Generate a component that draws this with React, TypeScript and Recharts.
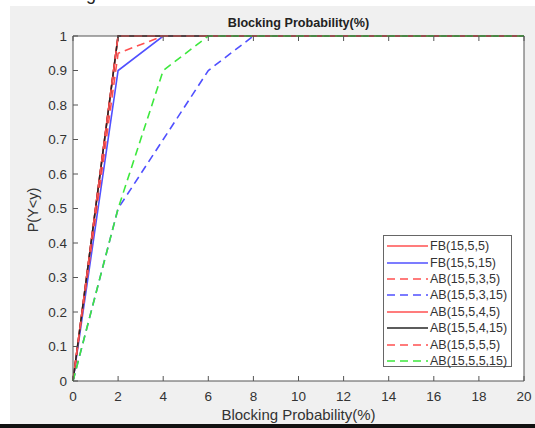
import React from 'react'
import { LineChart, Line, XAxis, YAxis, CartesianGrid } from 'recharts'

const FONT = '"Liberation Sans", Arial, sans-serif'
const RED = '#ff5050'
const BLUE = '#5050ff'
const GREEN = '#3de83d'
const BLACK = '#262626'
const DASH = '8 5'

// blocking probability (%) sampled every 2
const xValues = [0, 2, 4, 6, 8, 10, 12, 14, 16, 18, 20]
const xTicks = [0, 2, 4, 6, 8, 10, 12, 14, 16, 18, 20]
const yTicks = [0, 0.1, 0.2, 0.3, 0.4, 0.5, 0.6, 0.7, 0.8, 0.9, 1]

const fb_15_5_5 = [0, 1, 1, 1, 1, 1, 1, 1, 1, 1, 1]
const fb_15_5_15 = [0, 0.9, 1, 1, 1, 1, 1, 1, 1, 1, 1]
const ab_15_5_3_5 = [0, 0.95, 1, 1, 1, 1, 1, 1, 1, 1, 1]
const ab_15_5_3_15 = [0, 0.5, 0.7, 0.9, 1, 1, 1, 1, 1, 1, 1]
const ab_15_5_4_5 = [0, 1, 1, 1, 1, 1, 1, 1, 1, 1, 1]
const ab_15_5_4_15 = [0, 1, 1, 1, 1, 1, 1, 1, 1, 1, 1]
const ab_15_5_5_5 = [0, 1, 1, 1, 1, 1, 1, 1, 1, 1, 1]
const ab_15_5_5_15 = [0, 0.5, 0.9, 1, 1, 1, 1, 1, 1, 1, 1]

const series = [
  { key: 'fb5', name: 'FB(15,5,5)', values: fb_15_5_5, color: RED, dash: undefined },
  { key: 'fb15', name: 'FB(15,5,15)', values: fb_15_5_15, color: BLUE, dash: undefined },
  { key: 'ab35', name: 'AB(15,5,3,5)', values: ab_15_5_3_5, color: RED, dash: DASH },
  { key: 'ab315', name: 'AB(15,5,3,15)', values: ab_15_5_3_15, color: BLUE, dash: DASH },
  { key: 'ab45', name: 'AB(15,5,4,5)', values: ab_15_5_4_5, color: RED, dash: undefined },
  { key: 'ab415', name: 'AB(15,5,4,15)', values: ab_15_5_4_15, color: BLACK, dash: undefined },
  { key: 'ab55', name: 'AB(15,5,5,5)', values: ab_15_5_5_5, color: RED, dash: DASH },
  { key: 'ab515', name: 'AB(15,5,5,15)', values: ab_15_5_5_15, color: GREEN, dash: DASH },
]

const data = xValues.map((x, i) => {
  const row: Record<string, number> = { x }
  series.forEach(s => { row[s.key] = s.values[i] })
  return row
})

const tickStyle = { fontSize: 13.5, fill: '#333', fontFamily: FONT }
const EmptyTick = () => <g />

function Legend() {
  return (
    <div style={{ position: 'absolute', left: 383, top: 235, width: 129, height: 132, border: '1px solid #666', background: '#fff', boxSizing: 'border-box', paddingTop: 2 }}>
      {series.map(s => (
        <div key={s.key} style={{ display: 'flex', alignItems: 'center', height: 16.4, fontFamily: FONT, fontSize: 12.5, color: '#333' }}>
          <svg width={46} height={10} style={{ flex: 'none' }}>
            <line x1={3} x2={44} y1={5} y2={5} stroke={s.color} strokeWidth={1.6} strokeDasharray={s.dash} />
          </svg>
          <span style={{ whiteSpace: 'nowrap' }}>{s.name}</span>
        </div>
      ))}
    </div>
  )
}

export default function App() {
  return (
    <div style={{ position: 'absolute', left: 0, top: 0, width: 535, height: 428, background: '#fff', overflow: 'hidden' }}>
      <div style={{ position: 'absolute', left: 86, top: -15, fontFamily: FONT, fontSize: 18, lineHeight: '18px', color: '#222' }}>g</div>
      <div style={{ position: 'absolute', left: 10, top: 6, width: 525, height: 418, background: '#f0f0f0' }} />
      <div style={{ position: 'absolute', left: 0, top: 424, width: 535, height: 4, background: '#111' }} />
      <div style={{ position: 'absolute', left: 73, width: 451, top: 16, textAlign: 'center', fontFamily: FONT, fontWeight: 'bold', fontSize: 12.6, lineHeight: '15px', color: '#222' }}>
        Blocking Probability(%)
      </div>
      <div style={{ position: 'absolute', left: 73, width: 451, top: 406, textAlign: 'center', fontFamily: FONT, fontSize: 15, lineHeight: '17px', color: '#333' }}>
        Blocking Probability(%)
      </div>
      <div style={{ position: 'absolute', left: 33, top: 210, width: 0, height: 0 }}>
        <div style={{ position: 'absolute', left: -40, top: -9, width: 80, textAlign: 'center', transform: 'rotate(-90deg)', fontFamily: FONT, fontSize: 14.5, lineHeight: '18px', color: '#333' }}>
          P(Y&lt;y)
        </div>
      </div>
      <div style={{ position: 'absolute', left: 0, top: 0 }}>
        <LineChart width={535} height={428} data={data} margin={{ top: 35, right: 10, bottom: 17, left: 13 }}>
          <CartesianGrid xAxisId="b" yAxisId="l" horizontal={false} vertical={false} fill="#fff" />
          <XAxis xAxisId="b" dataKey="x" type="number" domain={[0, 20]} ticks={xTicks} height={30}
            tickSize={-5} tickMargin={15} tick={tickStyle} stroke="#555" interval={0} />
          <XAxis xAxisId="t" dataKey="x" type="number" orientation="top" domain={[0, 20]} ticks={xTicks} height={1}
            tickSize={-5} tick={EmptyTick} stroke="#555" interval={0} />
          <YAxis yAxisId="l" type="number" domain={[0, 1]} ticks={yTicks} width={60}
            tickSize={-5} tickMargin={11} tick={tickStyle} stroke="#555" interval={0} />
          <YAxis yAxisId="r" type="number" orientation="right" domain={[0, 1]} ticks={yTicks} width={1}
            tickSize={-5} tick={EmptyTick} stroke="#555" interval={0} />
          {series.map(s => (
            <Line key={s.key} xAxisId="b" yAxisId="l" type="linear" dataKey={s.key} name={s.name}
              stroke={s.color} strokeWidth={1.6} strokeDasharray={s.dash} dot={false}
              isAnimationActive={false} />
          ))}
        </LineChart>
      </div>
      <Legend />
    </div>
  )
}
